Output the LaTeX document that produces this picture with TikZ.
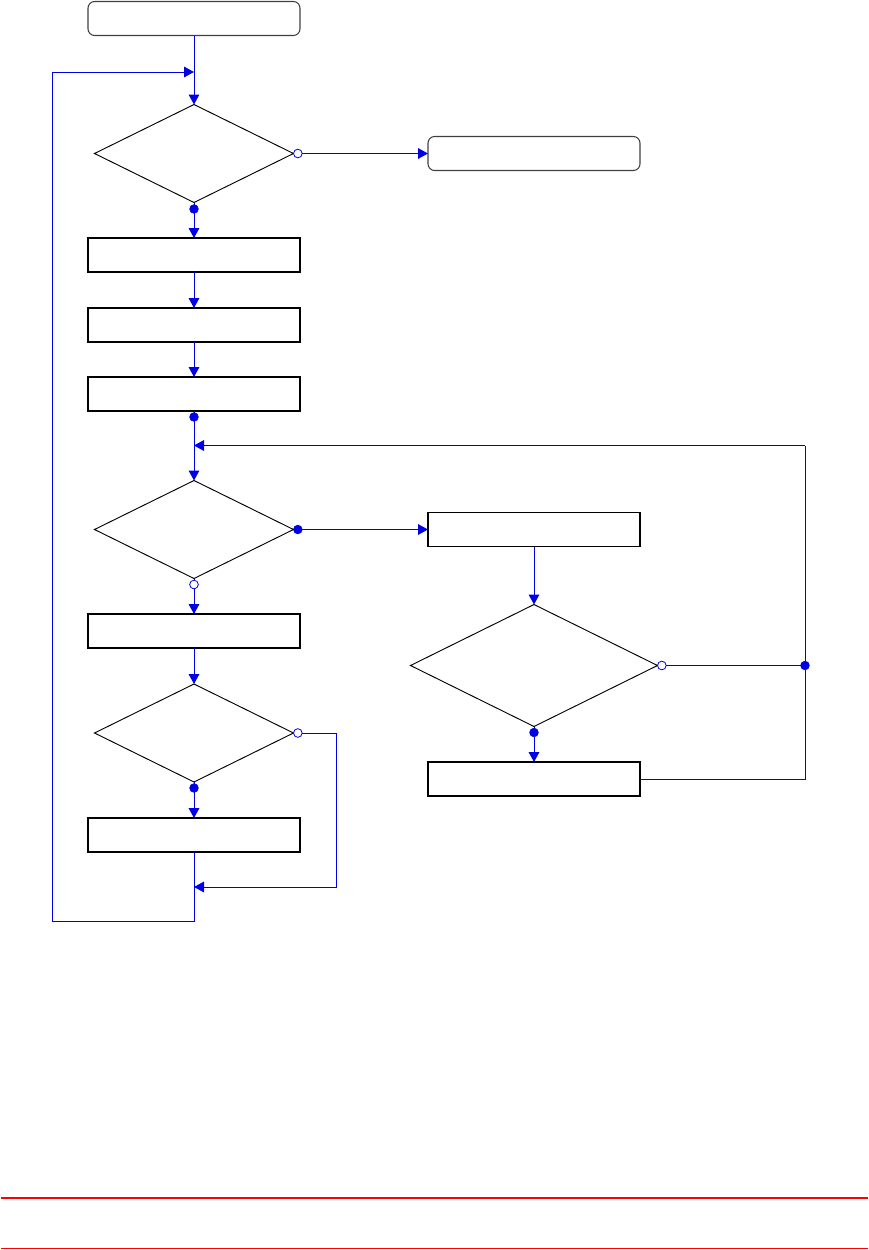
\documentclass[tikz,border=0pt]{standalone}
\usetikzlibrary{shapes.geometric,arrows.meta,positioning}
\definecolor{lnblue}{RGB}{0,0,230}
\definecolor{lnred}{RGB}{255,0,0}
\begin{document}
\begin{tikzpicture}[x=0.75pt,y=-0.75pt,
  every node/.style={outer sep=0pt,inner sep=0pt},
  procbox/.style={draw=black,line width=1pt,rectangle,minimum width=159pt,minimum height=25.5pt},
  termbox/.style={draw=black!75,line width=0.8pt,rectangle,rounded corners=5pt,minimum width=159pt,minimum height=25.5pt},
  decis/.style={draw=black,line width=0.7pt,diamond,minimum width=149.25pt,minimum height=73.5pt},
  bigdecis/.style={draw=black,line width=0.7pt,diamond,minimum width=185.25pt,minimum height=91.5pt},
  fdot/.style={circle,fill=lnblue,draw=lnblue,line width=0.5pt,minimum size=6.5pt},
  odot/.style={circle,fill=white,draw=lnblue,line width=0.6pt,minimum size=6.5pt},
  conn/.style={draw=lnblue,line width=0.75pt},
  arr/.style={conn,-{Triangle[length=7.5pt,width=8pt]}}
]
\useasboundingbox (0,0) rectangle (868,1250);

% nodes
\node[termbox] (start) at (194,18.5) {};
\node[decis] (d1) at (194,153.5) {};
\node[termbox] (finish) at (534,153.5) {};
\node[procbox] (b2) at (194,255) {};
\node[procbox] (b3) at (194,325) {};
\node[procbox] (b4) at (194,394) {};
\node[decis] (d2) at (194,529.5) {};
\node[procbox] (r1) at (534,529.5) {};
\node[procbox] (b5) at (194,631) {};
\node[bigdecis] (d4) at (534,665.5) {};
\node[procbox] (r2) at (534,779) {};
\node[decis] (d3) at (194,733) {};
\node[procbox] (b6) at (194,835) {};

% dots
\node[odot,anchor=west] (o1) at (d1.east) {};
\node[fdot] (f1) at (194,209) {};
\node[fdot] (f2) at (194,417) {};
\node[fdot,anchor=west] (f3) at (d2.east) {};
\node[odot] (o2) at (194,584.5) {};
\node[odot,anchor=west] (o3) at (d3.east) {};
\node[fdot] (f4) at (194,788) {};
\node[odot,anchor=west] (o4) at (d4.east) {};
\node[fdot] (f5) at (534,732.5) {};
\node[fdot] (j) at (805,665.5) {};

% merge coordinates
\coordinate (m1) at (194,72);
\coordinate (m2) at (194,445.5);
\coordinate (m3) at (194,887);

% connectors
\draw[arr] (start.south) -- (d1.north);
\draw[arr] (o1.east) -- (finish.west);
\draw[conn] (d1.south) -- (f1);
\draw[arr] (f1) -- (b2.north);
\draw[arr] (b2.south) -- (b3.north);
\draw[arr] (b3.south) -- (b4.north);
\draw[conn] (b4.south) -- (f2);
\draw[arr] (f2) -- (d2.north);
\draw[arr] (f3.east) -- (r1.west);
\draw[conn] (d2.south) -- (o2.north);
\draw[arr] (o2.south) -- (b5.north);
\draw[arr] (b5.south) -- (d3.north);
\draw[conn] (d3.south) -- (f4);
\draw[arr] (f4) -- (b6.north);
\draw[arr] (o3.east) -- (336,733) -- (336,887) -- (m3);
\draw[conn] (b6.south) -- (194,921) -- (52,921) -- (52,72);
\draw[arr] (52,72) -- (m1);
\draw[arr] (r1.south) -- (d4.north);
\draw[conn] (d4.south) -- (f5);
\draw[arr] (f5) -- (r2.north);
\draw[conn] (o4.east) -- (j);
\draw[conn] (r2.east) -- (805,779) -- (j) -- (805,445.5);
\draw[arr] (805,445.5) -- (m2);

% red rules
\draw[lnred,line width=1.2pt] (1,1198) -- (868,1198);
\draw[lnred,line width=1.2pt] (1,1248.5) -- (868,1248.5);
\end{tikzpicture}
\end{document}
